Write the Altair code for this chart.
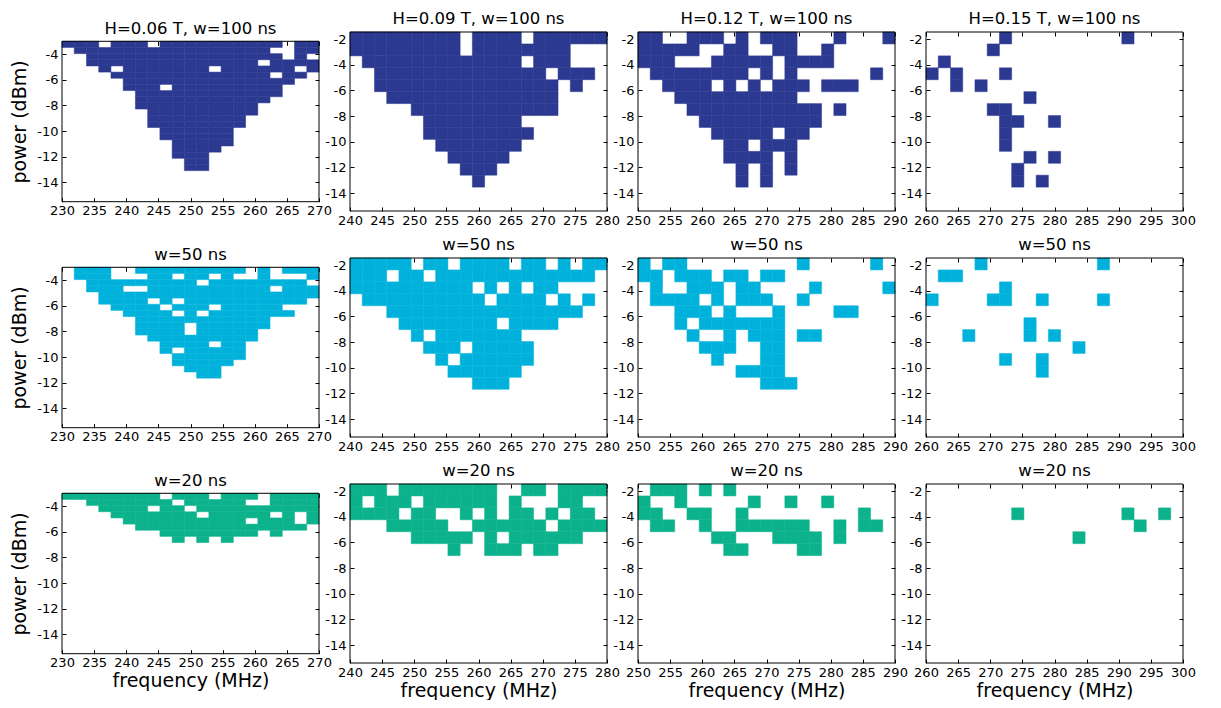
import altair as alt
import pandas as pd

# ---------------- data ----------------
FIELD_LABELS = ["H=0.06 T", "H=0.09 T", "H=0.12 T", "H=0.15 T"]
PULSE_LABELS = ["w=100 ns", "w=50 ns", "w=20 ns"]

FREQ_MIN = [230, 240, 250, 260]
FREQ_MAX = [270, 280, 290, 300]
FREQ_BINS = 21
POWER_TOP = [-3.0, -1.45, -1.45, -1.45]
POWER_BOTTOM = [-15.5, -15.4, -15.4, -15.4]
POWER_STEP = [0.48, 0.93, 0.93, 0.93]

X_TICKS = [
    [230, 235, 240, 245, 250, 255, 260, 265, 270],
    [240, 245, 250, 255, 260, 265, 270, 275, 280],
    [250, 255, 260, 265, 270, 275, 280, 285, 290],
    [260, 265, 270, 275, 280, 285, 290, 295, 300],
]
Y_TICKS = [
    [-14, -12, -10, -8, -6, -4],
    [-14, -12, -10, -8, -6, -4, -2],
    [-14, -12, -10, -8, -6, -4, -2],
    [-14, -12, -10, -8, -6, -4, -2],
]

SERIES_COLORS = ["#2b3990", "#00b2db", "#0bb28b"]

# switching maps: '#' = switched cell, rows from top power downwards
MAP_H006_W100 = [
    "###.###.##########.##",
    ".################..##",
    "..################.#.",
    "..##############.####",
    "...#.#######.######.#",
    "....#############.##.",
    ".....##############..",
    ".....###.#########...",
    "......############...",
    "......###########....",
    "......##########.....",
    ".......#########.....",
    ".......########......",
    ".......########......",
    "........######.......",
    "........######.......",
    ".........#####.......",
    ".........####........",
    ".........###.........",
    "..........##.........",
    "..........##.........",
]
MAP_H009_W100 = [
    "#########.####.######",
    "#########.########...",
    ".#############.###...",
    "..##############.###.",
    "..###############.#..",
    "...##############....",
    ".....############....",
    "......########.......",
    "......#########......",
    ".......#######.......",
    "........#####........",
    ".........###.........",
    "..........#..........",
]
MAP_H012_W100 = [
    "##..###.#.###...#...#",
    "#####..##..##..#.....",
    "###...#####.####.....",
    ".########.#.#......#.",
    "..####.#.#.###.###...",
    "...##########........",
    "....###########.#....",
    ".....##########......",
    "......#####.##.......",
    ".......##.###........",
    ".......####.#........",
    "........#.#.#........",
    "........#.#..........",
]
MAP_H015_W100 = [
    "......#.........#....",
    ".....#...............",
    ".#...................",
    "#.#...#..............",
    "..#.#................",
    "........#............",
    ".....##..............",
    "......##..#..........",
    "......#..............",
    "......#..............",
    "........#.#..........",
    ".......#.............",
    ".......#.#...........",
]
MAP_H006_W50 = [
    ".###..#########.#.###",
    ".###...##.##.#..#...#",
    "..#########.########.",
    "..###..##########.###",
    "...##################",
    "...####.#.##########.",
    "....####.###.#####...",
    ".....####.#.#######..",
    "......###########....",
    "......####.######....",
    "......####.#####.....",
    ".......#########.....",
    "........####.##......",
    "........#.#####......",
    ".........######......",
    ".........#####.......",
    "..........###........",
    "...........##........",
]
MAP_H009_W50 = [
    "#####.##.####.##.#.##",
    "###.##.#############.",
    "##########.#.#.##....",
    ".##########.####.#.#.",
    "...################..",
    "....########.####....",
    ".....#.#######.......",
    "......###.#####......",
    ".......#.######......",
    "........######.......",
    "..........###........",
]
MAP_H012_W50 = [
    "#.##.........#.....#.",
    "##.###.##.##.........",
    ".#..###.##....#.....#",
    ".####.#.###..#.......",
    "...###.#...#....##...",
    "...#.#######.........",
    "....#..#.###.##......",
    ".....###..##.........",
    "......#...##.........",
    "........####.........",
    "..........###........",
]
MAP_H015_W50 = [
    "....#.........#......",
    ".##..................",
    "......#..............",
    "#....##..#....#......",
    ".....................",
    "........#............",
    "...#....#.#..........",
    "............#........",
    "......#..#...........",
    ".........#...........",
]
MAP_H006_W20 = [
    "########.###.###.####",
    "..#######.#####..####",
    "...####.##.##########",
    "....#######.#####.#.#",
    ".....##########.###.#",
    "......##############.",
    "........########.#...",
    ".........#.#.#.......",
]
MAP_H009_W20 = [
    "###.########..##.####",
    "#.###.######.#...##..",
    "####.##..#.#.##.#.##.",
    "...#####..######.####",
    ".....#####.#.######..",
    "........#..###.##....",
]
MAP_H012_W20 = [
    ".###.#.#.............",
    "#..#.....#..#..#.....",
    "##..##..#.........#..",
    ".##..#..######..#.##.",
    "......##...####.#....",
    ".......##....##......",
]
MAP_H015_W20 = [
    ".....................",
    ".....................",
    ".......#........#..#.",
    ".................#...",
    "............#........",
]

MAPS = [
    [MAP_H006_W100, MAP_H009_W100, MAP_H012_W100, MAP_H015_W100],
    [MAP_H006_W50, MAP_H009_W50, MAP_H012_W50, MAP_H015_W50],
    [MAP_H006_W20, MAP_H009_W20, MAP_H012_W20, MAP_H015_W20],
]

# ---------------- layout / style ----------------
FONT = "DejaVu Sans"
PANEL_W = 257
PX_PER_DBM = 12.82
TICK_LEN = 4
LABEL_EXPR = "datum.value < 0 ? '-' + format(-datum.value, 'd') : format(datum.value, 'd')"

SPANS = [POWER_TOP[i] - POWER_BOTTOM[i] for i in range(4)]
MAX_SPAN = max(SPANS)
PANEL_H = round(PX_PER_DBM * MAX_SPAN)


def make_panel(row, col):
    grid = MAPS[row][col]
    fmin, fmax = FREQ_MIN[col], FREQ_MAX[col]
    cw = (fmax - fmin) / FREQ_BINS
    top, step, bottom = POWER_TOP[col], POWER_STEP[col], POWER_BOTTOM[col]
    recs = []
    for r, line in enumerate(grid):
        for c, ch in enumerate(line[:FREQ_BINS]):
            if ch == "#":
                recs.append({
                    "f_lo": fmin + c * cw,
                    "f_hi": fmin + (c + 1) * cw,
                    "p_hi": top - r * step,
                    "p_lo": top - (r + 1) * step,
                })
    df = pd.DataFrame(recs, columns=["f_lo", "f_hi", "p_lo", "p_hi"])
    frame_df = pd.DataFrame([{"f_lo": fmin, "f_hi": fmax, "p_lo": bottom, "p_hi": top}])

    # shorter panels keep the common view height and are centred inside it
    mid = (top + bottom) / 2
    pad_px = (MAX_SPAN - SPANS[col]) / 2 * PANEL_H / MAX_SPAN
    xscale = alt.Scale(domain=[fmin, fmax], nice=False, zero=False)
    yscale = alt.Scale(domain=[mid - MAX_SPAN / 2, mid + MAX_SPAN / 2], nice=False, zero=False)

    xoff = -(TICK_LEN + pad_px)
    xa = dict(values=X_TICKS[col], labelExpr=LABEL_EXPR, offset=xoff, tickSize=TICK_LEN,
              labelPadding=3, titlePadding=2)
    ya = dict(values=Y_TICKS[col], labelExpr=LABEL_EXPR, offset=-TICK_LEN, tickSize=TICK_LEN,
              labelPadding=4, titlePadding=7)
    x_axis = alt.Axis(title="frequency (MHz)", **xa) if row == 2 else alt.Axis(title=None, **xa)
    y_axis = alt.Axis(title="power (dBm)", **ya) if col == 0 else alt.Axis(title=None, **ya)

    color = SERIES_COLORS[row]
    cells = alt.Chart(df).mark_rect(color=color, stroke=color, strokeWidth=0.5).encode(
        x=alt.X("f_lo:Q", scale=xscale, axis=x_axis),
        x2="f_hi:Q",
        y=alt.Y("p_lo:Q", scale=yscale, axis=y_axis),
        y2="p_hi:Q",
    )
    # plot frame, carrying the inward ticks of the top and right edges
    frame = alt.Chart(frame_df).mark_rect(filled=False, stroke="black", strokeWidth=1).encode(
        x=alt.X("f_lo:Q", scale=xscale,
                axis=alt.Axis(orient="top", values=X_TICKS[col], labels=False, title=None,
                              offset=xoff, tickSize=TICK_LEN)),
        x2="f_hi:Q",
        y=alt.Y("p_lo:Q", scale=yscale,
                axis=alt.Axis(orient="right", values=Y_TICKS[col], labels=False, title=None,
                              offset=-TICK_LEN, tickSize=TICK_LEN)),
        y2="p_hi:Q",
    )
    text = f"{FIELD_LABELS[col]}, {PULSE_LABELS[0]}" if row == 0 else PULSE_LABELS[row]
    return alt.layer(cells, frame).resolve_axis(x="independent", y="independent").properties(
        width=PANEL_W,
        height=PANEL_H,
        title=alt.TitleParams(text=text, font=FONT, fontSize=16.5, fontWeight="normal",
                              color="black", offset=4 - pad_px, frame="group", anchor="middle"),
    )


panels = [make_panel(r, c) for r in range(3) for c in range(4)]

chart = alt.concat(
    *panels, columns=4, spacing={"row": 47, "column": 31}, bounds="flush"
).properties(
    padding={"left": 2, "top": 3, "right": 0, "bottom": 0},
    background="white",
).configure_view(
    strokeWidth=0
).configure_axis(
    labelFont=FONT, labelFontSize=13, labelColor="black",
    titleFont=FONT, titleFontSize=19, titleFontWeight="normal", titleColor="black",
    tickColor="black", tickWidth=1, domain=False, grid=False,
    labelFlush=False, labelOverlap=False,
)

chart.save("out.html", embed_options={"renderer": "svg", "actions": False})
